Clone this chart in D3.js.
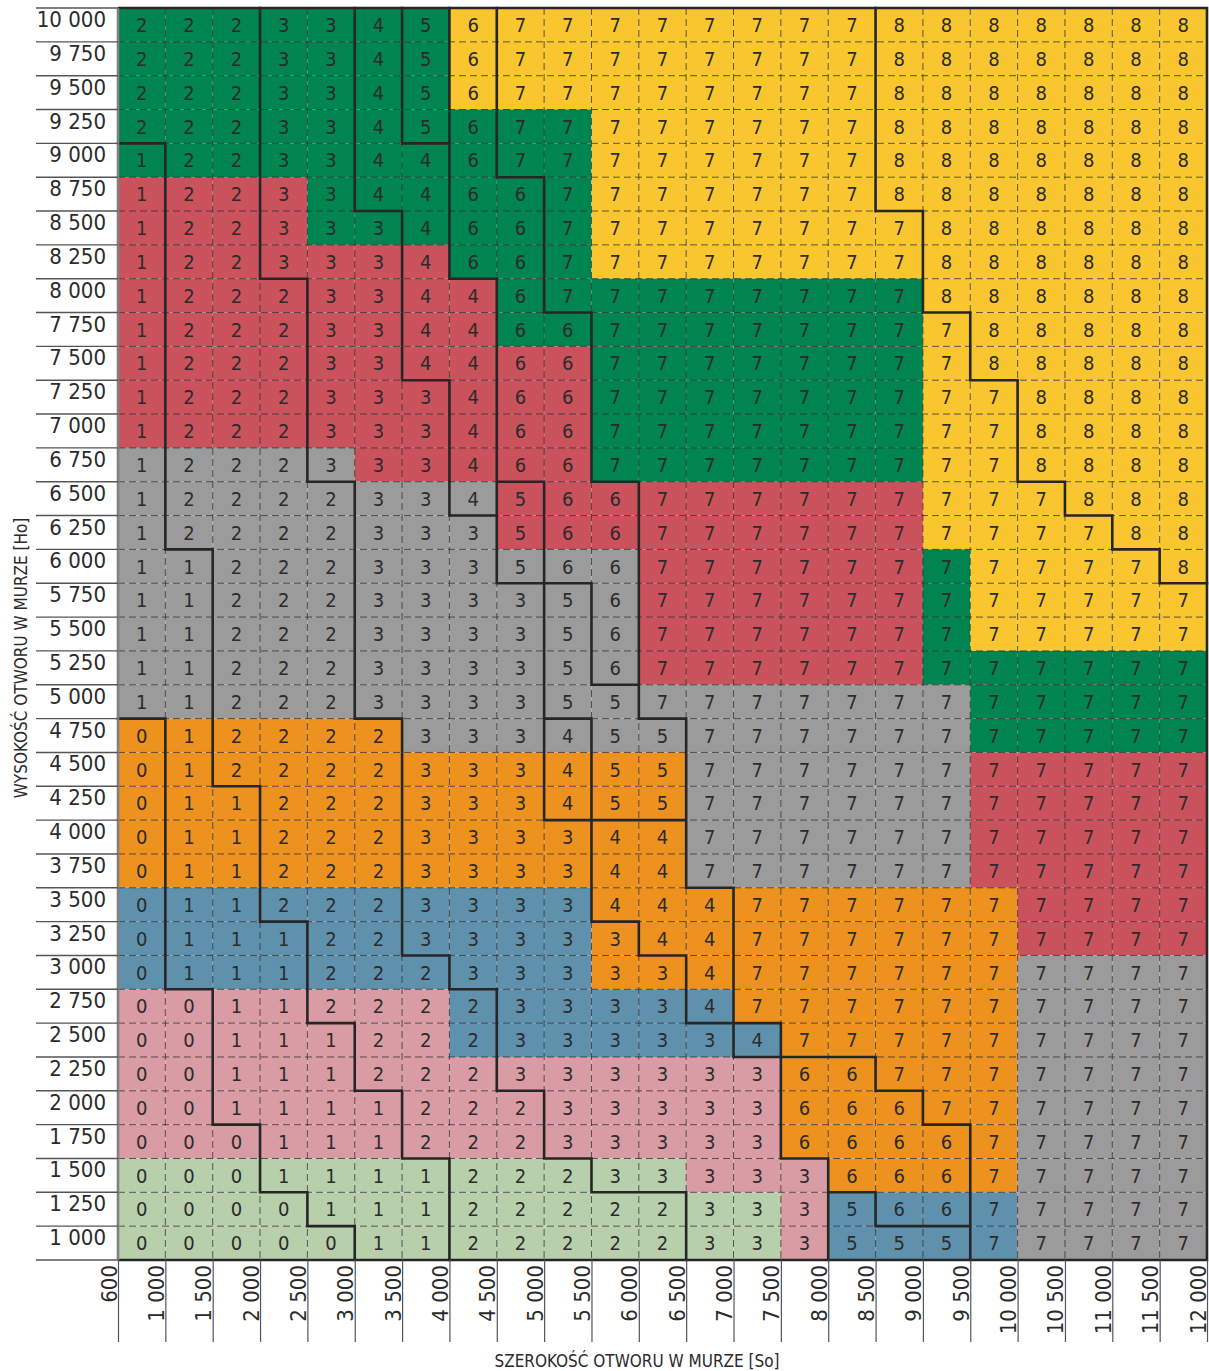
<!DOCTYPE html>
<html>
<head>
<meta charset="utf-8">
<script src="https://cdn.jsdelivr.net/npm/d3@7"></script>
<style>
  body { margin: 0; background: #fff; }
  text { font-family: 'DejaVu Sans Condensed', 'DejaVu Sans', sans-serif; fill: #2b2b2b; }
</style>
</head>
<body>
<svg id="chart" width="1209" height="1371"></svg>
<script>
// ===== Data =====
// Opening width boundaries [So] (columns lie between consecutive ticks)
const widthTicks = [600, 1000, 1500, 2000, 2500, 3000, 3500, 4000, 4500, 5000, 5500, 6000,
                    6500, 7000, 7500, 8000, 8500, 9000, 9500, 10000, 10500, 11000, 11500, 12000];

// Opening heights [Ho], one per row, top to bottom
const heightRows = [10000, 9750, 9500, 9250, 9000, 8750, 8500, 8250, 8000, 7750, 7500, 7250,
                    7000, 6750, 6500, 6250, 6000, 5750, 5500, 5250, 5000, 4750, 4500, 4250,
                    4000, 3750, 3500, 3250, 3000, 2750, 2500, 2250, 2000, 1750, 1500, 1250, 1000];

// Cell values, one string per row (one digit per column)
const cellValues = [
  "22233456777777778888888",
  "22233456777777778888888",
  "22233456777777778888888",
  "22233456777777778888888",
  "12233446777777778888888",
  "12233446677777778888888",
  "12233346677777777888888",
  "12233346677777777888888",
  "12223344677777777888888",
  "12223344667777777788888",
  "12223344667777777788888",
  "12223334667777777778888",
  "12223334667777777778888",
  "12223334667777777778888",
  "12222334566777777777888",
  "12222333566777777777788",
  "11222333566777777777778",
  "11222333356777777777777",
  "11222333356777777777777",
  "11222333356777777777777",
  "11222333355777777777777",
  "01222233345577777777777",
  "01222233345577777777777",
  "01122233345577777777777",
  "01122233334477777777777",
  "01122233334477777777777",
  "01122233334447777777777",
  "01112233333447777777777",
  "01112223333347777777777",
  "00112222333347777777777",
  "00111222333334777777777",
  "00111222333333667777777",
  "00111122233333666777777",
  "00011122233333666677777",
  "00011112223333366677777",
  "00001112222233356677777",
  "00000112222233355577777"
];

// Colour zone of each cell, one string per row
const cellZones = [
  "GGGGGGGYYYYYYYYYYYYYYYY",
  "GGGGGGGYYYYYYYYYYYYYYYY",
  "GGGGGGGYYYYYYYYYYYYYYYY",
  "GGGGGGGGGGYYYYYYYYYYYYY",
  "GGGGGGGGGGYYYYYYYYYYYYY",
  "RRRRGGGGGGYYYYYYYYYYYYY",
  "RRRRGGGGGGYYYYYYYYYYYYY",
  "RRRRRRRGGGYYYYYYYYYYYYY",
  "RRRRRRRRGGGGGGGGGYYYYYY",
  "RRRRRRRRGGGGGGGGGYYYYYY",
  "RRRRRRRRRRGGGGGGGYYYYYY",
  "RRRRRRRRRRGGGGGGGYYYYYY",
  "RRRRRRRRRRGGGGGGGYYYYYY",
  "AAAAARRRRRGGGGGGGYYYYYY",
  "AAAAAAAARRRRRRRRRYYYYYY",
  "AAAAAAAARRRRRRRRRYYYYYY",
  "AAAAAAAAAAARRRRRRGYYYYY",
  "AAAAAAAAAAARRRRRRGYYYYY",
  "AAAAAAAAAAARRRRRRGYYYYY",
  "AAAAAAAAAAARRRRRRGGGGGG",
  "AAAAAAAAAAAAAAAAAAGGGGG",
  "OOOOOOAAAAAAAAAAAAGGGGG",
  "OOOOOOOOOOOOAAAAAARRRRR",
  "OOOOOOOOOOOOAAAAAARRRRR",
  "OOOOOOOOOOOOAAAAAARRRRR",
  "OOOOOOOOOOOOAAAAAARRRRR",
  "BBBBBBBBBBOOOOOOOOORRRR",
  "BBBBBBBBBBOOOOOOOOORRRR",
  "BBBBBBBBBBOOOOOOOOOAAAA",
  "PPPPPPPBBBBBBOOOOOOAAAA",
  "PPPPPPPBBBBBBBOOOOOAAAA",
  "PPPPPPPPPPPPPPOOOOOAAAA",
  "PPPPPPPPPPPPPPOOOOOAAAA",
  "PPPPPPPPPPPPPPOOOOOAAAA",
  "LLLLLLLLLLLLPPPOOOOAAAA",
  "LLLLLLLLLLLLLLPBBBBAAAA",
  "LLLLLLLLLLLLLLPBBBBAAAA"
];

const xTitle = "SZEROKOŚĆ OTWORU W MURZE [So]";
const yTitle = "WYSOKOŚĆ OTWORU W MURZE [Ho]";

// ===== Styles =====
const zoneColor = {
  G: '#008450', Y: '#f9c630', R: '#c9525c', A: '#9b9b9b',
  O: '#ee921f', B: '#5f91ad', P: '#d99ba4', L: '#b8cfac'
};
const lineDark = '#262626';

// ===== Scales =====
const svg = d3.select('#chart');
const x = d3.scalePoint().domain(widthTicks).range([118, 1207]);
const y = d3.scaleBand().domain(heightRows).range([8, 1260]);
const colL = c => x(widthTicks[c]);
const colR = c => x(widthTicks[c + 1]);
const nCols = widthTicks.length - 1;
const [gridTop, gridBottom] = y.range();
const [gridLeft, gridRight] = x.range();

const fmt = d3.formatLocale({ thousands: ' ', grouping: [3], decimal: ',', currency: ['', ''] }).format(',');

// ===== Cells =====
const cells = [];
heightRows.forEach((h, r) => {
  for (let c = 0; c < nCols; c++) {
    cells.push({ r, c, h, v: cellValues[r][c], z: cellZones[r][c] });
  }
});

svg.append('g').selectAll('rect')
  .data(cells).join('rect')
  .attr('x', d => colL(d.c))
  .attr('y', d => y(d.h))
  .attr('width', d => colR(d.c) - colL(d.c))
  .attr('height', y.bandwidth())
  .attr('fill', d => zoneColor[d.z]);

// --- Dashed inner grid ---
const grid = svg.append('g')
  .attr('stroke', '#2b2b2b').attr('stroke-opacity', 0.75)
  .attr('stroke-width', 1).attr('stroke-dasharray', '7,4');

grid.selectAll('line.v')
  .data(widthTicks.slice(1, -1)).join('line')
  .attr('class', 'v')
  .attr('x1', d => x(d)).attr('x2', d => x(d))
  .attr('y1', gridTop).attr('y2', gridBottom);

grid.selectAll('line.h')
  .data(heightRows.slice(1)).join('line')
  .attr('class', 'h')
  .attr('x1', gridLeft).attr('x2', gridRight)
  .attr('y1', d => y(d)).attr('y2', d => y(d));

// --- Cell numbers ---
svg.append('g').selectAll('text')
  .data(cells).join('text')
  .attr('x', d => (colL(d.c) + colR(d.c)) / 2)
  .attr('y', d => y(d.h) + y.bandwidth() / 2)
  .attr('dy', '0.36em')
  .attr('text-anchor', 'middle')
  .style('font-size', '20px')
  .text(d => d.v);

// --- Thick boundaries wherever the value changes ---
const p = d3.path();
heightRows.forEach((h, r) => {
  const y0 = y(h), y1 = y0 + y.bandwidth();
  for (let c = 0; c < nCols; c++) {
    if (c < nCols - 1 && cellValues[r][c] !== cellValues[r][c + 1]) {
      p.moveTo(colR(c), y0); p.lineTo(colR(c), y1);
    }
    if (r < heightRows.length - 1 && cellValues[r][c] !== cellValues[r + 1][c]) {
      p.moveTo(colL(c), y1); p.lineTo(colR(c), y1);
    }
  }
});
svg.append('path')
  .attr('d', p.toString())
  .attr('fill', 'none')
  .attr('stroke', lineDark)
  .attr('stroke-width', 2.6)
  .attr('stroke-linecap', 'square');

// --- Outer frame ---
svg.append('path')
  .attr('d', `M${gridLeft},${gridTop}H${gridRight}V${gridBottom}H${gridLeft}`)
  .attr('fill', 'none').attr('stroke', lineDark).attr('stroke-width', 2.6);
svg.append('line')
  .attr('x1', gridLeft).attr('x2', gridLeft).attr('y1', gridTop).attr('y2', gridBottom)
  .attr('stroke', '#808080').attr('stroke-width', 2.6);

// ===== Y axis (row labels above separator lines) =====
const yAxis = svg.append('g');
yAxis.selectAll('line')
  .data(heightRows.map(h => y(h)).concat([gridBottom])).join('line')
  .attr('x1', 36).attr('x2', gridLeft)
  .attr('y1', d => d).attr('y2', d => d)
  .attr('stroke', '#555').attr('stroke-width', 1.4);
yAxis.selectAll('text')
  .data(heightRows).join('text')
  .attr('x', 106)
  .attr('y', d => y(d) + 19)
  .attr('text-anchor', 'end')
  .style('font-size', '22px')
  .text(d => fmt(d));

// ===== X axis (rotated tick labels) =====
const xAxis = svg.append('g')
  .attr('transform', `translate(0,${gridBottom})`)
  .call(d3.axisBottom(x).tickSizeInner(82).tickSizeOuter(0).tickFormat(fmt));
xAxis.select('.domain').remove();
xAxis.selectAll('.tick line').attr('stroke', '#555').attr('stroke-width', 1.2);
xAxis.selectAll('.tick text')
  .attr('transform', 'rotate(-90)')
  .attr('x', -5).attr('y', -2).attr('dy', 0)
  .attr('text-anchor', 'end')
  .style('font-size', '22px')
  .style('font-family', "'DejaVu Sans Condensed', 'DejaVu Sans', sans-serif")
  .attr('fill', '#2b2b2b');

// ===== Axis titles =====
svg.append('text')
  .attr('x', 637).attr('y', 1367)
  .attr('text-anchor', 'middle')
  .style('font-size', '17px')
  .text(xTitle);

svg.append('text')
  .attr('transform', 'translate(27,658) rotate(-90)')
  .attr('text-anchor', 'middle')
  .style('font-size', '17px')
  .text(yTitle);
</script>
</body>
</html>
